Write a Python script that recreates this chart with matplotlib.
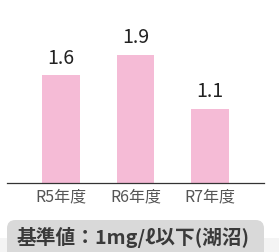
import matplotlib
matplotlib.use('Agg')
import matplotlib.pyplot as plt
from matplotlib.patches import FancyBboxPatch, Rectangle

categories = ['R5年度', 'R6年度', 'R7年度']
values = [1.6, 1.9, 1.1]
value_labels = ['1.6', '1.9', '1.1']
note = '基準値：1mg/ℓ以下(湖沼)'

plt.rcParams['font.family'] = ['Noto Sans CJK JP', 'DejaVu Sans']

W, H = 279, 252
fig = plt.figure(figsize=(W / 100, H / 100), dpi=100)

# faint band behind the note box
fig.patches.append(Rectangle((0, 0), 1, 14 / H, transform=fig.transFigure,
                             facecolor='#f4f4f4', edgecolor='none', zorder=0))
box = FancyBboxPatch((7 / W, -20 / H), 257 / W, 52 / H,
                     boxstyle='round,pad=0,rounding_size=0.03',
                     transform=fig.transFigure, facecolor='#d9d9d9',
                     edgecolor='none', zorder=1, mutation_aspect=W / H)
fig.patches.append(box)
fig.text(17 / W, 15 / H, note, fontsize=14.2, fontweight='bold', color='#3a3a3a',
         ha='left', va='center', zorder=2)

ax = fig.add_axes([7 / W, 69 / H, 257 / W, 183 / H])
x = range(len(categories))
bars = ax.bar(x, values, width=0.51, color='#f5bbd6')
for b, lab in zip(bars, value_labels):
    ax.annotate(lab, (b.get_x() + b.get_width() / 2, b.get_height()),
                xytext=(0, 4.5), textcoords='offset points', ha='center', va='bottom',
                fontsize=14, color='#222222')

ax.set_xlim(-0.725, 2.725)
ax.set_ylim(0, 183 / 67.6)
ax.set_xticks(list(x))
ax.set_xticklabels(categories, fontsize=11.5, color='#555555')
ax.tick_params(axis='x', length=0, pad=4)
ax.set_yticks([])
for s in ['top', 'right', 'left']:
    ax.spines[s].set_visible(False)
ax.spines['bottom'].set_color('#333333')
ax.spines['bottom'].set_linewidth(0.9)

fig.savefig('out.png', dpi=100)
